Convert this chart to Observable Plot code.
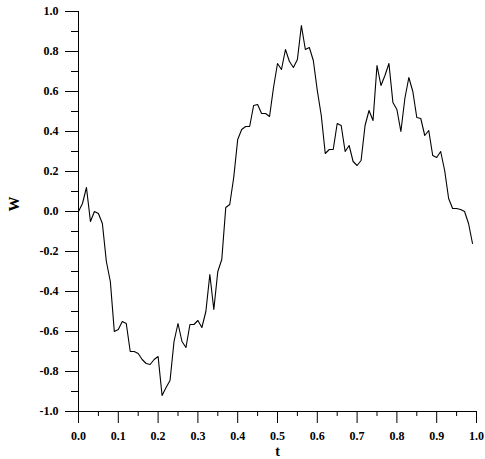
<!DOCTYPE html>
<html><head><meta charset="utf-8">
<script src="https://cdn.jsdelivr.net/npm/d3@7"></script>
<script src="https://cdn.jsdelivr.net/npm/@observablehq/plot@0.6"></script>
<style>
body{margin:0;background:#fff}
#chart svg, #chart svg text{font-family:"Liberation Serif","Times New Roman",serif !important;font-weight:bold !important;}
</style>
</head><body><div id="chart"></div>
<script>
const tValues = [0.00,0.01,0.02,0.03,0.04,0.05,0.06,0.07,0.08,0.09,
0.10,0.11,0.12,0.13,0.14,0.15,0.16,0.17,0.18,0.19,
0.20,0.21,0.22,0.23,0.24,0.25,0.26,0.27,0.28,0.29,
0.30,0.31,0.32,0.33,0.34,0.35,0.36,0.37,0.38,0.39,
0.40,0.41,0.42,0.43,0.44,0.45,0.46,0.47,0.48,0.49,
0.50,0.51,0.52,0.53,0.54,0.55,0.56,0.57,0.58,0.59,
0.60,0.61,0.62,0.63,0.64,0.65,0.66,0.67,0.68,0.69,
0.70,0.71,0.72,0.73,0.74,0.75,0.76,0.77,0.78,0.79,
0.80,0.81,0.82,0.83,0.84,0.85,0.86,0.87,0.88,0.89,
0.90,0.91,0.92,0.93,0.94,0.95,0.96,0.97,0.98,0.99];
const wValues = [0.00,0.04,0.12,-0.05,0.00,-0.01,-0.06,-0.25,-0.35,-0.60,
-0.59,-0.55,-0.56,-0.70,-0.70,-0.71,-0.74,-0.76,-0.765,-0.74,
-0.725,-0.92,-0.88,-0.845,-0.65,-0.56,-0.65,-0.68,-0.565,-0.565,
-0.545,-0.58,-0.50,-0.315,-0.49,-0.30,-0.24,0.02,0.035,0.17,
0.36,0.41,0.425,0.425,0.53,0.535,0.49,0.49,0.475,0.62,
0.74,0.71,0.81,0.75,0.72,0.76,0.93,0.81,0.82,0.755,
0.605,0.48,0.29,0.31,0.31,0.44,0.43,0.30,0.33,0.25,
0.23,0.255,0.43,0.505,0.455,0.73,0.63,0.68,0.74,0.545,
0.51,0.40,0.565,0.67,0.60,0.47,0.465,0.38,0.405,0.28,
0.27,0.30,0.205,0.065,0.015,0.015,0.01,0.00,-0.06,-0.16];
const xMajorTicks = [0.0,0.1,0.2,0.3,0.4,0.5,0.6,0.7,0.8,0.9,1.0];
const xMinorTicks = [0.05,0.15,0.25,0.35,0.45,0.55,0.65,0.75,0.85,0.95];
const yMajorTicks = [-1.0,-0.8,-0.6,-0.4,-0.2,0.0,0.2,0.4,0.6,0.8,1.0];
const yMinorTicks = [-0.9,-0.7,-0.5,-0.3,-0.1,0.1,0.3,0.5,0.7,0.9];
const xLabel = "t";
const yLabel = "W";

const data = tValues.map((t, i) => ({t, w: wValues[i]}));
const fmt = d => d.toFixed(1);

const chart = Plot.plot({
  width: 485, height: 459,
  marginLeft: 78, marginRight: 9, marginTop: 11, marginBottom: 48,
  style: {fontSize: "12px", color: "#000", background: "#fff"},
  x: {domain: [0, 1]},
  y: {domain: [-1, 1]},
  marks: [
    Plot.axisX({ticks: xMajorTicks, tickSize: 12, tickPadding: 8, tickFormat: fmt, label: null}),
    Plot.axisX({ticks: xMinorTicks, tickSize: 5, tickFormat: () => "", label: null}),
    Plot.axisY({ticks: yMajorTicks, tickSize: 13, tickPadding: 7, tickFormat: fmt, label: null}),
    Plot.axisY({ticks: yMinorTicks, tickSize: 7, tickFormat: () => "", label: null}),
    Plot.ruleX([0], {stroke: "#000"}),
    Plot.ruleY([-1], {stroke: "#000"}),
    Plot.line(data, {x: "t", y: "w", stroke: "#000", strokeWidth: 1.1}),
    Plot.text([yLabel], {text: d => d, frameAnchor: "left", dx: -64, rotate: -90, fontSize: 15, fontWeight: "bold"}),
    Plot.text([xLabel], {text: d => d, frameAnchor: "bottom", dy: 44, fontSize: 14, fontWeight: "bold"})
  ]
});
document.getElementById("chart").appendChild(chart);
</script>
</body></html>
